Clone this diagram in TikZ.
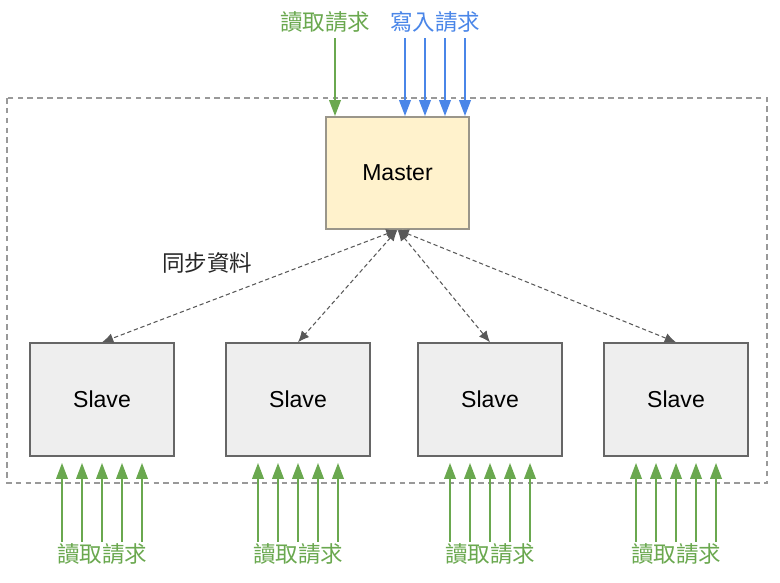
\documentclass[tikz,border=0pt]{standalone}
\usepackage{fontspec}
\setmainfont{Liberation Sans}
\newfontfamily\cjk{Noto Sans CJK TC}
\usetikzlibrary{arrows.meta}
\definecolor{readgreen}{HTML}{6AA84F}
\definecolor{writeblue}{HTML}{4A86E8}
\definecolor{masterfill}{HTML}{FFF2CC}
\definecolor{masterline}{HTML}{9A968A}
\definecolor{slavefill}{HTML}{EEEEEE}
\definecolor{slaveline}{HTML}{666666}
\definecolor{framegray}{HTML}{999999}
\definecolor{syncgray}{HTML}{595959}

\begin{document}
\begin{tikzpicture}[x=0.025cm,y=-0.025cm,
    box/.style={draw=slaveline,line width=1pt,fill=slavefill,minimum width=3.6cm,minimum height=2.825cm,font=\fontsize{16.4}{19}\selectfont},
    req/.style={line width=2pt,-{Triangle[length=11.5pt,width=8pt]}},
    reqtext/.style={font=\cjk\fontsize{16}{18}\selectfont,inner sep=1pt},
    sync/.style={syncgray,dashed,dash pattern=on 3pt off 2pt,line width=0.75pt,{Latex[length=8pt,width=7pt]}-{Latex[length=8pt,width=7pt]}}]
		\useasboundingbox (0,0) rectangle (780,583);
		% frame
		\draw[framegray,line width=1pt,dash pattern=on 4pt off 3pt] (7,98) rectangle (767,483);
		% master and slaves
		\node[box,fill=masterfill,draw=masterline,minimum width=3.575cm,minimum height=2.8cm] (master) at (397.5,173) {Master};
		\foreach \i/\x in {1/102,2/298,3/490,4/676} {
			\node[box] (slave\i) at (\x,399.5) {Slave};
		}
		% sync
		\foreach \i in {1,...,4} {
			\draw[sync] (master.south) -- (slave\i.north);
		}
		\node[reqtext,text=black!85] (synctext) at (207,263) {同步資料};
		% requests on top
		\node[reqtext,text=readgreen] (readtop) at (325,22) {讀取請求};
		\node[reqtext,text=writeblue] (writetop) at (435,22) {寫入請求};
		\draw[req,readgreen] ([xshift=0.25cm,yshift=-0.1cm]readtop.south) -- ([xshift=0.25cm]readtop.south |- master.north);
		\foreach \d in {-30,-10,10,30} {
			\draw[req,writeblue] ([xshift=\d*0.025cm,yshift=-0.1cm]writetop.south) -- ([xshift=\d*0.025cm]writetop.south |- master.north);
		}
		% requests below
		\foreach \i in {1,...,4} {
			\path (slave\i.south) ++(0,97) node[reqtext,text=readgreen] (readbot\i) {讀取請求};
			\foreach \d in {-40,-20,0,20,40} {
				\draw[req,readgreen] ([xshift=\d*0.025cm]readbot\i.north) -- ([xshift=\d*0.025cm,yshift=-0.15cm]slave\i.south);
			}
		}
\end{tikzpicture}
\end{document}
